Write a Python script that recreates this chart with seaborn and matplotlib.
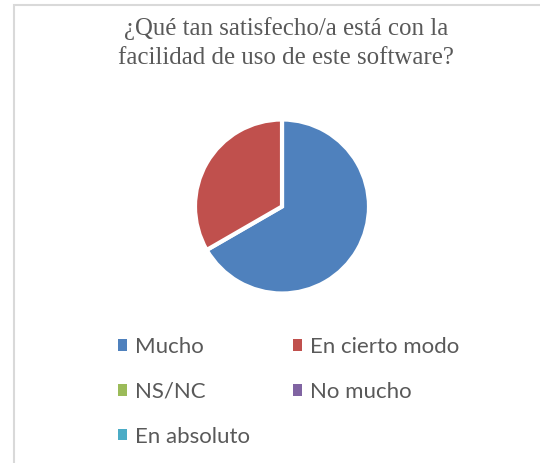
import matplotlib
matplotlib.use("Agg")
import matplotlib.pyplot as plt
from matplotlib.patches import Patch, Rectangle
import seaborn as sns

# Data
categories = ["Mucho", "En cierto modo", "NS/NC", "No mucho", "En absoluto"]
values = [2, 1, 0, 0, 0]
colors = ["#4F81BD", "#C0504D", "#9BBB59", "#8064A2", "#4BACC6"]
title_lines = ["¿Qué tan satisfecho/a está con la", "facilidad de uso de este software?"]

sns.set_theme(style="white")
plt.rcParams['font.family'] = ['Lato', 'DejaVu Sans']

W, H = 540, 463
fig = plt.figure(figsize=(W / 100, H / 100), dpi=100)
fig.patch.set_facecolor("white")

# Border of chart area
fig.add_artist(Rectangle((13.5 / W, -0.01), 1.0, (H - 4.5) / H + 0.01,
                         transform=fig.transFigure, fill=False,
                         edgecolor="#D9D9D9", linewidth=1.5))

# Pie
cx, cy, r = 282, 206.5, 87
ax = fig.add_axes([(cx - r) / W, (H - cy - r) / H, 2 * r / W, 2 * r / H])
nz = [(v, c) for v, c in zip(values, colors) if v > 0]
ax.pie([v for v, _ in nz], colors=[c for _, c in nz], startangle=90,
       counterclock=False, radius=1.0,
       wedgeprops=dict(edgecolor="white", linewidth=3))
ax.set_xlim(-1, 1)
ax.set_ylim(-1, 1)
ax.set_aspect("equal")
ax.axis("off")

# Title
for i, line in enumerate(title_lines):
    fig.text(286 / W, 1 - (29 + 29 * i) / H, line, ha="center", va="center",
             fontsize=17.9, color="#595959", family=["Liberation Serif", "DejaVu Serif"])

# Legend (column-wise fill)
order = [0, 2, 4, 1, 3]
handles = [Patch(facecolor=colors[i], edgecolor="none") for i in order]
labels = [categories[i] for i in order]
fig.legend(handles, labels, ncol=2, loc="upper left",
           bbox_to_anchor=(118 / W, 1 - 337 / H), frameon=False,
           fontsize=16, labelcolor="#595959",
           handlelength=0.4, handleheight=0.4, handletextpad=0.35,
           columnspacing=1.95, labelspacing=1.12, borderpad=0, borderaxespad=0)

fig.savefig("out.png", dpi=100)
